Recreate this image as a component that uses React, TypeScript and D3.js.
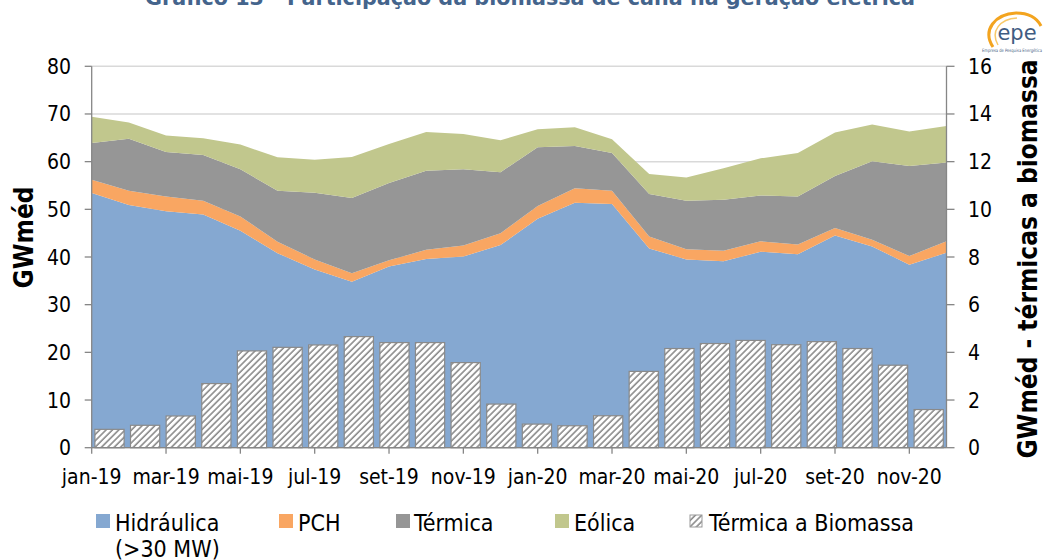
import * as d3 from "d3";

// Meses (eixo de categorias)
const months = [
  "jan-19", "fev-19", "mar-19", "abr-19", "mai-19", "jun-19",
  "jul-19", "ago-19", "set-19", "out-19", "nov-19", "dez-19",
  "jan-20", "fev-20", "mar-20", "abr-20", "mai-20", "jun-20",
  "jul-20", "ago-20", "set-20", "out-20", "nov-20", "dez-20",
];

// GWméd por fonte (eixo esquerdo, empilhado)
const hidraulica = [53.4, 50.9, 49.6, 48.9, 45.5, 40.8, 37.4, 34.8, 38.0, 39.6, 40.1, 42.5, 48.0, 51.4, 51.1, 41.8, 39.5, 39.1, 41.1, 40.6, 44.5, 42.2, 38.4, 40.9];
const pch = [2.8, 3.0, 3.1, 2.9, 3.0, 2.4, 2.1, 1.8, 1.3, 1.9, 2.3, 2.5, 2.7, 3.0, 2.8, 2.5, 2.1, 2.2, 2.2, 2.0, 1.6, 1.4, 1.8, 2.4];
const termica = [7.7, 10.9, 9.3, 9.6, 9.9, 10.7, 14.0, 15.8, 16.2, 16.6, 16.0, 12.8, 12.3, 8.9, 7.9, 8.9, 10.2, 10.7, 9.6, 10.1, 10.9, 16.5, 18.9, 16.5];
const eolica = [5.5, 3.4, 3.5, 3.5, 5.2, 7.0, 6.9, 8.6, 8.2, 8.1, 7.4, 6.7, 3.8, 3.9, 2.9, 4.2, 4.9, 6.6, 7.8, 9.1, 9.1, 7.7, 7.2, 7.7];

// GWméd térmicas a biomassa (eixo direito, barras)
const biomassa = [0.77, 0.94, 1.33, 2.69, 4.06, 4.21, 4.31, 4.66, 4.41, 4.41, 3.57, 1.83, 0.99, 0.92, 1.34, 3.2, 4.16, 4.37, 4.5, 4.32, 4.45, 4.16, 3.46, 1.6];

const leftTicks = [0, 10, 20, 30, 40, 50, 60, 70, 80];
const rightTicks = [0, 2, 4, 6, 8, 10, 12, 14, 16];

const seriesKeys = ["hidraulica", "pch", "termica", "eolica"];
const colors: Record<string, string> = {
  hidraulica: "#85a8d1",
  pch: "#f9a662",
  termica: "#969696",
  eolica: "#c1c78d",
};

const W = 1045;
const H = 560;
const plot = { left: 91.7, right: 946.5, top: 66.3, bottom: 447.7 };
const font = "'DejaVu Sans Condensed', 'DejaVu Sans', sans-serif";
const axisColor = "#868686";

export default function App() {
  const x = d3.scalePoint<string>().domain(months).range([plot.left, plot.right]);
  const xb = d3
    .scaleBand<string>()
    .domain(months)
    .range([plot.left, plot.right])
    .paddingInner(0.18)
    .paddingOuter(0.09);
  const y = d3.scaleLinear().domain([0, 80]).range([plot.bottom, plot.top]);
  const y2 = d3.scaleLinear().domain([0, 16]).range([plot.bottom, plot.top]);

  const rows = months.map((m, i) => ({
    month: m,
    hidraulica: hidraulica[i],
    pch: pch[i],
    termica: termica[i],
    eolica: eolica[i],
  }));
  const stacked = d3.stack<any>().keys(seriesKeys)(rows);
  const area = d3
    .area<any>()
    .x((d) => x(d.data.month) as number)
    .y0((d) => y(d[0]))
    .y1((d) => y(d[1]));

  const labelMonths = months.filter((_, i) => i % 2 === 0);

  const legend = [
    { key: "hidraulica", sq: 96, tx: 115, label: ["Hidráulica", "(>30 MW)"] },
    { key: "pch", sq: 279, tx: 298, label: ["PCH"] },
    { key: "termica", sq: 396, tx: 414, label: ["Térmica"] },
    { key: "eolica", sq: 555, tx: 574, label: ["Eólica"] },
  ];

  return (
    <svg
      width={W}
      height={H}
      style={{ position: "absolute", left: 0, top: 0, background: "#fff" }}
      fontFamily={font}
    >
      <defs>
        <pattern
          id="hatch"
          patternUnits="userSpaceOnUse"
          width={4.5}
          height={4.5}
          patternTransform="rotate(45)"
        >
          <rect width={4.5} height={4.5} fill="#fff" />
          <line x1={1} y1={0} x2={1} y2={4.5} stroke="#7a7a7a" strokeWidth={1.4} />
        </pattern>
      </defs>

      {/* título (cortado no topo) */}
      <text
        x={530}
        y={5}
        textAnchor="middle"
        fontSize={21}
        fontWeight="bold"
        fill="#44648c"
        textLength={770}
        lengthAdjust="spacingAndGlyphs"
      >
        Gráfico 13 - Participação da biomassa de cana na geração elétrica
      </text>

      {/* logo epe */}
      <g>
        <path
          d="M993,47 C982,30 995,14 1016,13 C1029,13 1037,18 1041,26"
          fill="none"
          stroke="#f3a41f"
          strokeWidth={3}
        />
        <path
          d="M998,45 C990,31 1000,19 1017,18"
          fill="none"
          stroke="#f8c96a"
          strokeWidth={1.5}
        />
        <text x={1017} y={40} textAnchor="middle" fontSize={21} fill="#3f5c82" fontFamily="'DejaVu Sans', sans-serif">
          epe
        </text>
        <text
          x={1012}
          y={52}
          textAnchor="middle"
          fontSize={4.6}
          fill="#3f5c82"
          fontFamily="'DejaVu Sans', sans-serif"
          textLength={60}
          lengthAdjust="spacingAndGlyphs"
        >
          Empresa de Pesquisa Energética
        </text>
      </g>

      {/* grade */}
      {leftTicks.map((t) => (
        <line
          key={"g" + t}
          x1={plot.left}
          x2={plot.right}
          y1={y(t)}
          y2={y(t)}
          stroke="#d9d9d9"
          strokeWidth={1.5}
        />
      ))}

      {/* áreas empilhadas */}
      {stacked.map((s) => (
        <path key={s.key} d={area(s) as string} fill={colors[s.key]} />
      ))}

      {/* barras biomassa */}
      {biomassa.map((v, i) => (
        <rect
          key={"b" + i}
          x={xb(months[i])}
          y={y2(v)}
          width={xb.bandwidth()}
          height={plot.bottom - y2(v)}
          fill="url(#hatch)"
          stroke="#8a8a8a"
          strokeWidth={1.2}
        />
      ))}

      {/* eixos */}
      <line x1={plot.left} x2={plot.left} y1={plot.top} y2={plot.bottom} stroke={axisColor} strokeWidth={1.3} />
      <line x1={plot.right} x2={plot.right} y1={plot.top} y2={plot.bottom} stroke={axisColor} strokeWidth={1.3} />
      <line x1={plot.left} x2={plot.right} y1={plot.bottom} y2={plot.bottom} stroke={axisColor} strokeWidth={1.3} />

      {leftTicks.map((t) => (
        <g key={"l" + t}>
          <line x1={plot.left - 7} x2={plot.left} y1={y(t)} y2={y(t)} stroke={axisColor} strokeWidth={1.3} />
          <text x={71} y={y(t) + 7.5} textAnchor="end" fontSize={21}>
            {t}
          </text>
        </g>
      ))}
      {rightTicks.map((t) => (
        <g key={"r" + t}>
          <line x1={plot.right} x2={plot.right + 8} y1={y2(t)} y2={y2(t)} stroke={axisColor} strokeWidth={1.3} />
          <text x={968} y={y2(t) + 7.5} textAnchor="start" fontSize={21}>
            {t}
          </text>
        </g>
      ))}
      {labelMonths.map((m) => (
        <g key={"x" + m}>
          <line x1={x(m)} x2={x(m)} y1={plot.bottom} y2={plot.bottom + 6} stroke={axisColor} strokeWidth={1.3} />
          <text x={x(m)} y={484} textAnchor="middle" fontSize={21}>
            {m}
          </text>
        </g>
      ))}

      {/* títulos dos eixos */}
      <text
        transform="translate(33,237.5) rotate(-90)"
        textAnchor="middle"
        fontSize={26}
        fontWeight="bold"
      >
        GWméd
      </text>
      <text
        transform="translate(1037,259) rotate(-90)"
        textAnchor="middle"
        fontSize={26}
        fontWeight="bold"
      >
        GWméd - térmicas a biomassa
      </text>

      {/* legenda */}
      {legend.map((l) => (
        <g key={"lg" + l.key}>
          <rect x={l.sq} y={514} width={14} height={14} fill={colors[l.key]} />
          {l.label.map((t, j) => (
            <text key={j} x={l.tx} y={530.5 + j * 26} fontSize={23}>
              {t}
            </text>
          ))}
        </g>
      ))}
      <rect x={690} y={515} width={12} height={12} fill="url(#hatch)" stroke="#9a9a9a" strokeWidth={1} />
      <text x={709} y={530.5} fontSize={23}>
        Térmica a Biomassa
      </text>
    </svg>
  );
}
